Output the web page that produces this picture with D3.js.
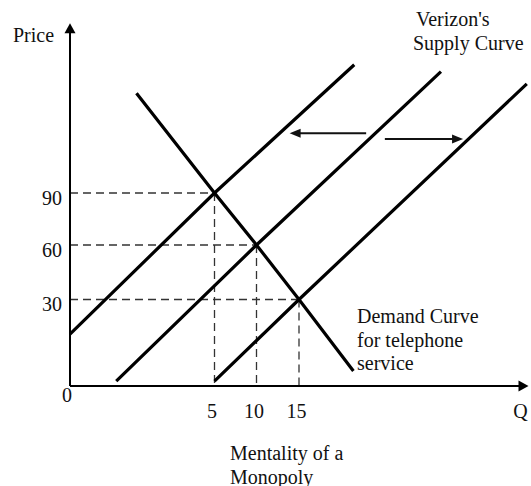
<!DOCTYPE html>
<html>
<head>
<meta charset="utf-8">
<script src="https://cdn.jsdelivr.net/npm/d3@7"></script>
<style>
  body { margin: 0; background: #fff; }
  svg text { font-family: "Liberation Serif", "Times New Roman", serif; font-size: 20px; fill: #111; }
</style>
</head>
<body>
<svg width="531" height="486"></svg>
<script>
// equilibrium points (quantity, price)
const quantities = [5, 10, 15];
const prices = [90, 60, 30];

const qTicks = [5, 10, 15];
const priceTicks = [30, 60, 90];

// demand curve for telephone service
const demand = [[2.3, 147.5], [5, 90], [10, 60], [15, 30], [21.4, 5.2]];

// the three supply curves (left, middle, right)
const supplyLeft = [[0, 18], [5, 90], [21.5, 164]];
const supplyMid = [[1.6, 1.7], [10, 60], [31.7, 160]];
const supplyRight = [[5, 1.7], [15, 30], [41.8, 153]];

// shift arrows: [from, to]
const shiftLeft = [[22.9, 124.4], [13.9, 124.4]];
const shiftRight = [[25.1, 121.2], [34.3, 121.2]];

const qMax = 42;
const pMax = 188;

const svg = d3.select('svg');

// schematic axes - uneven spacing, so piecewise scales
const xScale = d3.scaleLinear()
    .domain([0, 5, 10, 15])
    .range([70, 214.5, 256.5, 299]);

const yScale = d3.scaleLinear()
    .domain([0, 30, 60, 90])
    .range([386, 299.5, 245, 193]);

const line = d3.line()
    .x(d => xScale(d[0]))
    .y(d => yScale(d[1]));

// dashed guides
const guides = svg.append('g')
    .attr('stroke', '#333')
    .attr('stroke-width', 1.3)
    .attr('stroke-dasharray', '8,5')
    .attr('fill', 'none');

quantities.forEach((q, i) => {
    let p = prices[i];
    guides.append('path').attr('d', line([[0, p], [q, p]]));
    guides.append('path').attr('d', line([[q, p], [q, 0]]));
});

// axes
svg.append('path')
    .attr('d', line([[0, 0], [0, pMax - 5]]))
    .attr('stroke', '#000')
    .attr('stroke-width', 2)
    .attr('fill', 'none');

svg.append('path')
    .attr('d', line([[0, 0], [qMax - 1, 0]]))
    .attr('stroke', '#000')
    .attr('stroke-width', 2)
    .attr('fill', 'none');

let yTip = [xScale(0), yScale(pMax)];
svg.append('path')
    .attr('d', `M${yTip[0]},${yTip[1]} L${yTip[0] - 5.5},${yTip[1] + 10} L${yTip[0] + 5.5},${yTip[1] + 10} Z`)
    .attr('fill', '#000');

let xTip = [xScale(qMax), yScale(0)];
svg.append('path')
    .attr('d', `M${xTip[0]},${xTip[1]} L${xTip[0] - 10},${xTip[1] - 5.5} L${xTip[0] - 10},${xTip[1] + 5.5} Z`)
    .attr('fill', '#000');

// tick labels through d3 axes, no tick marks or domain
const yAxis = d3.axisLeft(yScale).tickValues(priceTicks).tickSize(0).tickPadding(8);
const yG = svg.append('g').attr('transform', 'translate(' + xScale(0) + ',0)').call(yAxis);
yG.select('.domain').remove();
yG.selectAll('text')
    .attr('font-size', null).attr('font-family', null)
    .attr('dy', '0.55em');
yG.attr('font-size', null).attr('font-family', null);

const xAxis = d3.axisBottom(xScale).tickValues(qTicks).tickSize(0).tickPadding(18);
const xG = svg.append('g').attr('transform', 'translate(0,' + yScale(0) + ')').call(xAxis);
xG.select('.domain').remove();
xG.selectAll('text').attr('dx', -3);
xG.attr('font-size', null).attr('font-family', null);

svg.append('text')
    .attr('x', xScale(0) - 3)
    .attr('y', yScale(0) + 16)
    .attr('text-anchor', 'middle')
    .text('0');

svg.append('text')
    .attr('x', xScale(qMax) - 8)
    .attr('y', yScale(0) + 32)
    .attr('text-anchor', 'middle')
    .text('Q');

svg.append('text')
    .attr('x', 13)
    .attr('y', 42)
    .text('Price');

// curves
const curves = svg.append('g')
    .attr('stroke', '#000')
    .attr('stroke-width', 3.2)
    .attr('fill', 'none');

[demand, supplyLeft, supplyMid, supplyRight].forEach(c => {
    curves.append('path').attr('d', line(c));
});

// shift arrows
[shiftLeft, shiftRight].forEach(a => {
    let x1 = xScale(a[0][0]), x2 = xScale(a[1][0]), yy = yScale(a[0][1]);
    let dir = x2 > x1 ? 1 : -1;
    svg.append('line')
        .attr('x1', x1).attr('x2', x2 - dir * 8)
        .attr('y1', yy).attr('y2', yy)
        .attr('stroke', '#111')
        .attr('stroke-width', 2);
    svg.append('path')
        .attr('d', `M${x2},${yy} L${x2 - dir * 11},${yy - 4.5} L${x2 - dir * 11},${yy + 4.5} Z`)
        .attr('fill', '#111');
});

// annotations
let addLines = (x, y0, lines, lh) => {
    let t = svg.append('text').attr('x', x).attr('y', y0);
    lines.forEach((s, i) => {
        t.append('tspan').attr('x', x).attr('y', y0 + i * lh).text(s);
    });
};

addLines(416, 26, ["Verizon's"], 24);
svg.append('text').attr('x', 413).attr('y', 50).text('Supply Curve');
addLines(357, 323, ['Demand Curve', 'for telephone', 'service'], 23.5);
addLines(230, 460, ['Mentality of a', 'Monopoly'], 23.5);
</script>
</body>
</html>
